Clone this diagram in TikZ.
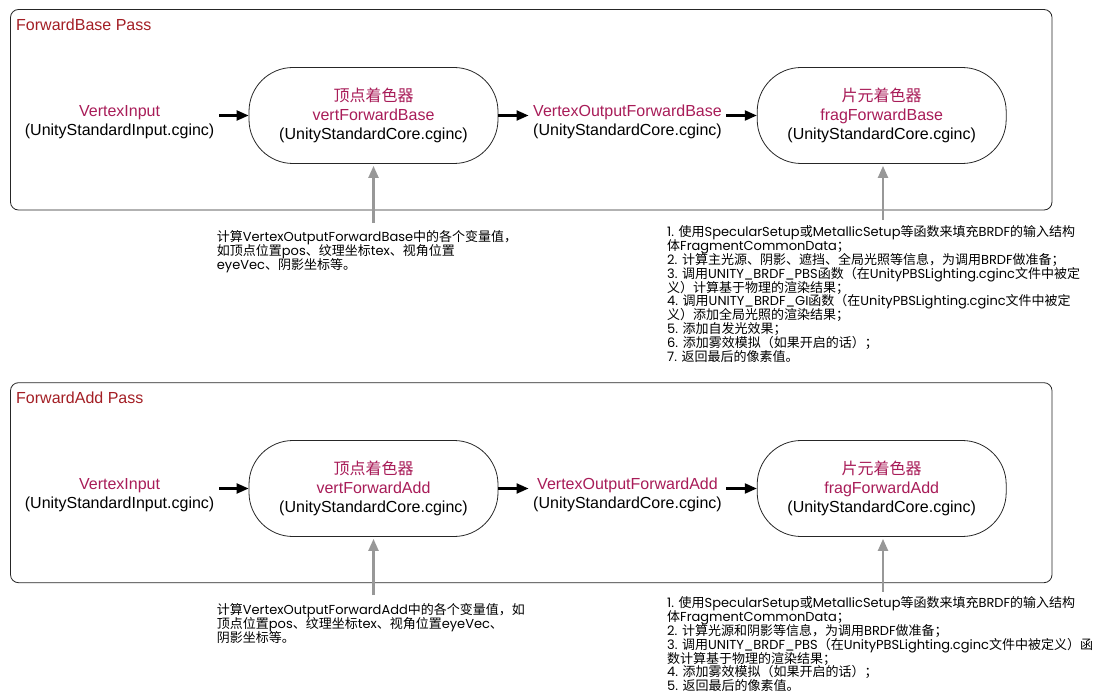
\documentclass[tikz,border=0pt]{standalone}
\usepackage{fontspec}
\setmainfont{Liberation Sans}
\newfontfamily\cjk{Noto Sans CJK SC}
\newfontfamily\notefont{Poppins}
\usetikzlibrary{arrows.meta}
\newcommand\zh[1]{{\cjk #1}}
\newcommand\notesetup{\notefont\fontsize{13}{13.8}\selectfont\lineskiplimit=-20pt\relax\lineskip=0pt\relax}
\definecolor{titlered}{RGB}{163,30,36}
\definecolor{mag}{RGB}{168,28,88}
\definecolor{greyarrow}{RGB}{152,152,152}
\tikzset{
  passbox/.style={draw=black!85, line width=0.8pt, rounded corners=8pt},
  passtitle/.style={anchor=west, inner sep=0pt, text=titlered, font=\fontsize{16}{19}\selectfont},
  pill/.style={draw=black!85, line width=0.8pt, rounded corners=44pt, minimum width=249pt, minimum height=96pt, align=center, inner sep=0pt, font=\fontsize{16}{19}\selectfont},
  datatext/.style={align=center, inner xsep=4.5pt, inner ysep=0pt, font=\fontsize{16}{19}\selectfont},
  notetext/.style={anchor=north west, align=left, inner sep=0pt, font=\notesetup},
  arr/.style={line width=2.2pt, -{Triangle[length=12pt,width=10pt]}},
  garr/.style={draw=greyarrow, line width=2.2pt, -{Triangle[length=12pt,width=10pt,fill=greyarrow]}, shorten >=2pt},
}
\begin{document}
\begin{tikzpicture}[x=1pt,y=-1pt]
\useasboundingbox (0,0) rectangle (1104,695);
% ---------- ForwardBase Pass ----------
\draw[passbox] (10.5,9.5) rectangle (1052,210);
\node[passtitle] (t1) at (16,25) {ForwardBase Pass};
\node[datatext] (vi1) at (119.6,122) {\textcolor{mag}{VertexInput}\\(UnityStandardInput.cginc)};
\node[pill] (vs1) at (373.5,115.5) {\textcolor{mag}{\zh{顶点着色器}}\\\textcolor{mag}{vertForwardBase}\\(UnityStandardCore.cginc)};
\node[datatext] (vo1) at (627.5,122) {\textcolor{mag}{VertexOutputForwardBase}\\(UnityStandardCore.cginc)};
\node[pill] (fs1) at (881.7,115.5) {\textcolor{mag}{\zh{片元着色器}}\\\textcolor{mag}{fragForwardBase}\\(UnityStandardCore.cginc)};
\draw[arr] (vi1.east |- vs1.west) -- (vs1.west);
\draw[arr] (vs1.east) -- (vo1.west |- vs1.east);
\draw[arr] (vo1.east |- fs1.west) -- (fs1.west);
\node[notetext] (n1) at (216.7,230.2) {\zh{计算}VertexOutputForwardBase\zh{中的各个变量值，}\\
\zh{如顶点位置}pos\zh{、纹理坐标}tex\zh{、视角位置}\\
eyeVec\zh{、阴影坐标等。}};
\node[notetext] (n2) at (667,225.8) {1. \zh{使用}SpecularSetup\zh{或}MetallicSetup\zh{等函数来填充}BRDF\zh{的输入结构}\\
\zh{体}FragmentCommonData\zh{；}\\
2. \zh{计算主光源、阴影、遮挡、全局光照等信息，为调用}BRDF\zh{做准备；}\\
3. \zh{调用}UNITY\_BRDF\_PBS\zh{函数（在}UnityPBSLighting.cginc\zh{文件中被定}\\
\zh{义）计算基于物理的渲染结果；}\\
4. \zh{调用}UNITY\_BRDF\_GI\zh{函数（在}UnityPBSLighting.cginc\zh{文件中被定}\\
\zh{义）添加全局光照的渲染结果；}\\
5. \zh{添加自发光效果；}\\
6. \zh{添加雾效模拟（如果开启的话）；}\\
7. \zh{返回最后的像素值。}};
\coordinate (g1) at (373.5,222.7);
\coordinate (g2) at (883,220);
\draw[garr] (g1) -- (vs1.south);
\draw[garr] (g2) -- (g2 |- fs1.south);
% ---------- ForwardAdd Pass ----------
\draw[passbox] (10.5,382.7) rectangle (1052,582.7);
\node[passtitle] (t2) at (16,398) {ForwardAdd Pass};
\node[datatext] (vi2) at (119.6,495) {\textcolor{mag}{VertexInput}\\(UnityStandardInput.cginc)};
\node[pill] (vs2) at (373.5,488.5) {\textcolor{mag}{\zh{顶点着色器}}\\\textcolor{mag}{vertForwardAdd}\\(UnityStandardCore.cginc)};
\node[datatext] (vo2) at (627.5,495) {\textcolor{mag}{VertexOutputForwardAdd}\\(UnityStandardCore.cginc)};
\node[pill] (fs2) at (881.7,488.5) {\textcolor{mag}{\zh{片元着色器}}\\\textcolor{mag}{fragForwardAdd}\\(UnityStandardCore.cginc)};
\draw[arr] (vi2.east |- vs2.west) -- (vs2.west);
\draw[arr] (vs2.east) -- (vo2.west |- vs2.east);
\draw[arr] (vo2.east |- fs2.west) -- (fs2.west);
\node[notetext] (n3) at (216.7,603.5) {\zh{计算}VertexOutputForwardAdd\zh{中的各个变量值，如}\\
\zh{顶点位置}pos\zh{、纹理坐标}tex\zh{、视角位置}eyeVec\zh{、}\\
\zh{阴影坐标等。}};
\node[notetext] (n4) at (667,596.8) {1. \zh{使用}SpecularSetup\zh{或}MetallicSetup\zh{等函数来填充}BRDF\zh{的输入结构}\\
\zh{体}FragmentCommonData\zh{；}\\
2. \zh{计算光源和阴影等信息，为调用}BRDF\zh{做准备；}\\
3. \zh{调用}UNITY\_BRDF\_PBS\zh{（在}UnityPBSLighting.cginc\zh{文件中被定义）函}\\
\zh{数计算基于物理的渲染结果；}\\
4. \zh{添加雾效模拟（如果开启的话）；}\\
5. \zh{返回最后的像素值。}};
\coordinate (g3) at (373.5,595);
\coordinate (g4) at (883,591.7);
\draw[garr] (g3) -- (vs2.south);
\draw[garr] (g4) -- (g4 |- fs2.south);
\end{tikzpicture}
\end{document}
